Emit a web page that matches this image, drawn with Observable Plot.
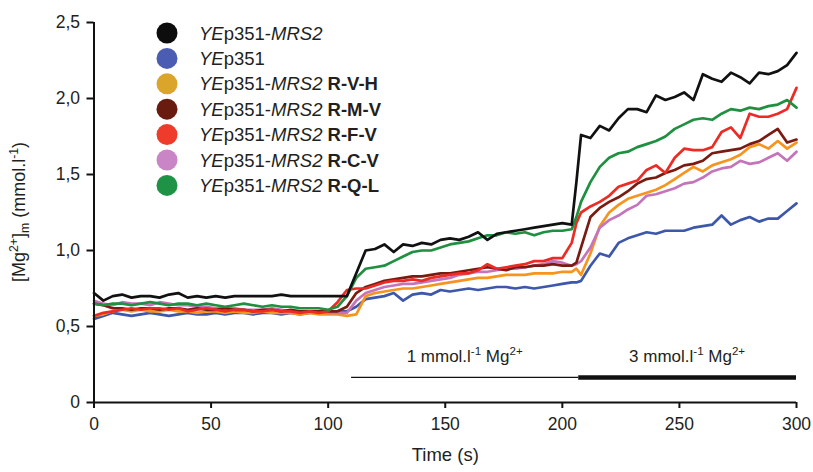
<!DOCTYPE html>
<html><head><meta charset="utf-8">
<script src="https://cdn.jsdelivr.net/npm/d3@7"></script>
<script src="https://cdn.jsdelivr.net/npm/@observablehq/plot@0.6"></script>
<style>
body{margin:0;background:#fff;}
#chart{width:813px;height:472px;}
</style></head><body><div id="chart"></div>
<script>
// ---- data ----
const times = [0,4,8,12,16,20,24,28,32,36,40,44,48,52,56,60,64,68,72,76,80,84,88,92,96,100,104,108,112,116,120,124,128,132,136,140,144,148,152,156,160,164,168,172,176,180,184,188,192,196,200,204,206,208,212,216,220,224,228,232,236,240,244,248,252,256,260,264,268,272,276,280,284,288,292,296,300];

const blackVals = [0.72,0.67,0.70,0.71,0.69,0.70,0.70,0.69,0.71,0.72,0.69,0.70,0.69,0.70,0.69,0.70,0.70,0.70,0.70,0.70,0.71,0.70,0.70,0.70,0.70,0.70,0.70,
 0.70,0.85,1.00,1.01,1.04,0.99,1.04,1.03,1.05,1.04,1.07,1.08,1.07,1.09,1.12,1.07,1.11,1.12,1.13,1.14,1.15,1.16,1.17,1.18,1.17,
 1.45,1.76,1.74,1.82,1.79,1.87,1.93,1.93,1.91,2.02,1.99,2.01,2.04,1.99,2.16,2.13,2.11,2.17,2.14,2.10,2.17,2.16,2.18,2.22,2.30];
const blueVals = [0.55,0.57,0.59,0.58,0.57,0.58,0.59,0.58,0.57,0.58,0.59,0.58,0.58,0.59,0.58,0.59,0.59,0.58,0.59,0.59,0.58,0.59,0.58,0.59,0.59,0.59,0.60,
 0.60,0.63,0.68,0.69,0.70,0.72,0.67,0.71,0.72,0.71,0.74,0.73,0.74,0.75,0.74,0.75,0.76,0.76,0.75,0.76,0.75,0.76,0.77,0.78,0.79,
 0.79,0.80,0.90,0.98,0.96,1.05,1.08,1.10,1.12,1.11,1.13,1.13,1.13,1.15,1.16,1.17,1.23,1.17,1.20,1.22,1.19,1.21,1.21,1.26,1.31];
const rvhVals = [0.57,0.58,0.60,0.61,0.60,0.61,0.60,0.60,0.61,0.60,0.60,0.59,0.60,0.60,0.59,0.60,0.59,0.59,0.60,0.59,0.59,0.59,0.58,0.59,0.58,0.58,0.58,
 0.57,0.58,0.70,0.72,0.73,0.74,0.75,0.75,0.76,0.77,0.78,0.79,0.80,0.81,0.82,0.82,0.83,0.84,0.84,0.84,0.85,0.85,0.85,0.86,0.86,
 0.88,0.84,0.98,1.16,1.25,1.30,1.34,1.36,1.38,1.40,1.43,1.47,1.51,1.55,1.52,1.56,1.58,1.60,1.63,1.68,1.70,1.67,1.72,1.67,1.71];
const rmvVals = [0.65,0.64,0.62,0.62,0.61,0.62,0.62,0.61,0.62,0.62,0.61,0.62,0.61,0.61,0.62,0.61,0.61,0.60,0.61,0.61,0.60,0.61,0.60,0.60,0.60,0.60,0.60,
 0.63,0.72,0.76,0.78,0.80,0.81,0.82,0.83,0.83,0.84,0.85,0.85,0.86,0.87,0.88,0.89,0.88,0.87,0.89,0.89,0.90,0.90,0.91,0.90,0.90,
 0.92,1.02,1.22,1.28,1.32,1.35,1.39,1.44,1.47,1.48,1.51,1.53,1.56,1.57,1.59,1.64,1.65,1.66,1.67,1.70,1.72,1.76,1.80,1.71,1.73];
const rfvVals = [0.57,0.59,0.60,0.61,0.62,0.61,0.62,0.62,0.61,0.62,0.60,0.61,0.62,0.61,0.60,0.61,0.61,0.60,0.60,0.61,0.60,0.60,0.59,0.60,0.59,0.60,0.66,
 0.74,0.75,0.75,0.77,0.79,0.80,0.80,0.81,0.80,0.82,0.83,0.84,0.85,0.85,0.87,0.91,0.88,0.89,0.90,0.91,0.93,0.93,0.95,0.95,1.05,
 1.18,1.25,1.29,1.32,1.36,1.42,1.44,1.46,1.53,1.56,1.51,1.61,1.67,1.66,1.66,1.68,1.78,1.81,1.74,1.90,1.88,1.88,1.90,1.93,2.07];
const rcvVals = [0.67,0.65,0.64,0.66,0.65,0.65,0.64,0.66,0.65,0.64,0.64,0.63,0.63,0.62,0.62,0.62,0.61,0.61,0.61,0.62,0.61,0.60,0.60,0.60,0.60,0.59,0.59,
 0.59,0.67,0.72,0.74,0.76,0.77,0.78,0.78,0.79,0.80,0.81,0.82,0.84,0.85,0.86,0.86,0.87,0.88,0.88,0.89,0.90,0.91,0.93,0.92,0.90,
 0.91,0.93,1.02,1.15,1.20,1.23,1.27,1.30,1.36,1.37,1.39,1.41,1.44,1.45,1.48,1.52,1.54,1.55,1.59,1.57,1.58,1.61,1.64,1.59,1.65];
const rqlVals = [0.65,0.64,0.65,0.65,0.64,0.65,0.66,0.65,0.64,0.65,0.65,0.64,0.65,0.64,0.63,0.64,0.65,0.64,0.63,0.64,0.63,0.63,0.62,0.62,0.62,0.61,0.63,
 0.70,0.82,0.88,0.89,0.90,0.93,0.96,0.99,1.00,1.00,1.02,1.04,1.05,1.06,1.08,1.10,1.10,1.12,1.11,1.12,1.10,1.12,1.13,1.13,1.14,
 1.22,1.32,1.45,1.55,1.61,1.64,1.65,1.68,1.70,1.72,1.75,1.80,1.83,1.86,1.87,1.86,1.90,1.93,1.92,1.94,1.93,1.95,1.96,1.99,1.94];

const seriesKeys   = ["MRS2","YEp351","R-V-H","R-M-V","R-F-V","R-C-V","R-Q-L"];
const seriesValues = [blackVals, blueVals, rvhVals, rmvVals, rfvVals, rcvVals, rqlVals];
const lineColors   = ["#111111","#3d57aa","#f7941d","#7a1b12","#ec2b25","#c574bb","#1f8f40"];
const dotColors    = ["#0d0d0d","#4a5db2","#dba52b","#6a1b0f","#ee3b2b","#c985c6","#1e9245"];
const drawOrder    = [1,2,5,3,4,6,0];

// legend parts: [text, style] ; style: i = italic, b = bold, n = normal
const legendParts = [
  [["YE","i"],["p351-","n"],["MRS2","i"]],
  [["YE","i"],["p351","n"]],
  [["YE","i"],["p351-","n"],["MRS2","i"],[" R-V-H","b"]],
  [["YE","i"],["p351-","n"],["MRS2","i"],[" R-M-V","b"]],
  [["YE","i"],["p351-","n"],["MRS2","i"],[" R-F-V","b"]],
  [["YE","i"],["p351-","n"],["MRS2","i"],[" R-C-V","b"]],
  [["YE","i"],["p351-","n"],["MRS2","i"],[" R-Q-L","b"]]
];

const xTicks = [0,50,100,150,200,250,300];
const yTicks = [0,0.5,1,1.5,2,2.5];
const yTickLabels = ["0","0,5","1,0","1,5","2,0","2,5"];
const xLabel = "Time (s)";

// treatment bars
const treatNames = ["1", "3"];
const treatStart = [110, 207];
const treatEnd   = [207, 300];
const treatLevel = 0.165;

// ---- build ----
const rows = [];
seriesKeys.forEach((k, s) => seriesValues[s].forEach((v, i) => rows.push({t: times[i], v, key: k})));
const treatRows = treatNames.map((n, i) => ({name: n, start: treatStart[i], end: treatEnd[i], mid: (treatStart[i] + treatEnd[i]) / 2}));

const FONT = "'Liberation Sans', Arial, Helvetica, sans-serif";
const ink = "#231f20";

const marks = [
  Plot.axisY({ticks: yTicks, tickFormat: d => yTickLabels[yTicks.indexOf(d)], tickSize: 7, tickPadding: 7, label: null, fontSize: 17.5, stroke: "#111", strokeWidth: 2, fill: ink}),
  Plot.axisX({ticks: xTicks, tickFormat: d => String(d), tickSize: 6, tickPadding: 9, label: null, fontSize: 17.5, stroke: "#111", strokeWidth: 2, fill: ink}),
  Plot.text([xLabel], {frameAnchor: "bottom", dy: 58, fontSize: 18.5, fill: ink}),
  Plot.ruleY(treatRows.slice(0,1), {x1: "start", x2: "end", y: treatLevel, stroke: "#111", strokeWidth: 1.3}),
  Plot.ruleY(treatRows.slice(1,2), {x1: "start", x2: "end", y: treatLevel, stroke: "#111", strokeWidth: 4.5})
];
drawOrder.forEach(s => {
  marks.push(Plot.line(rows.filter(r => r.key === seriesKeys[s]), {x: "t", y: "v", stroke: lineColors[s], strokeWidth: 2.7, strokeLinejoin: "round"}));
});
marks.push(Plot.ruleX([0], {stroke: "#111", strokeWidth: 2}));
marks.push(Plot.ruleY([0], {stroke: "#111", strokeWidth: 2}));

const plot = Plot.plot({
  width: 813, height: 472,
  marginLeft: 93.5, marginRight: 17, marginTop: 22, marginBottom: 70,
  style: {fontFamily: FONT, fontSize: "17px", color: ink, background: "#fff"},
  x: {domain: [0, 300]},
  y: {domain: [0, 2.5]},
  marks
});
document.getElementById("chart").appendChild(plot);

const xs = plot.scale("x"), ys = plot.scale("y");
const svg = d3.select(plot);

// rich text helper
function rich(parent, x, y, parts, size, anchor) {
  const t = parent.append("text").attr("x", x).attr("y", y)
    .attr("font-family", FONT).attr("font-size", size).attr("fill", ink)
    .attr("text-anchor", anchor || "start");
  let shift = 0;
  parts.forEach(([txt, st]) => {
    const sp = t.append("tspan").text(txt);
    let target = 0;
    if (st === "i") sp.attr("font-style", "italic");
    if (st === "b") sp.attr("font-weight", "bold");
    if (st === "sup") { target = -size * 0.38; sp.attr("font-size", size * 0.68); }
    if (st === "sub") { target = size * 0.22; sp.attr("font-size", size * 0.68); }
    if (target !== shift) { sp.attr("dy", target - shift); shift = target; }
  });
  return t;
}

// legend
const lg = svg.append("g");
legendParts.forEach((parts, i) => {
  const cy = 33 + i * 25.4;
  lg.append("circle").attr("cx", 167).attr("cy", cy).attr("r", 10.5).attr("fill", dotColors[i]);
  rich(lg, 199, cy + 6.5, parts, 18.5, "start");
});

// y label
const yl = svg.append("g").attr("transform", `translate(25, ${(ys.apply(0) + ys.apply(2.5)) / 2}) rotate(-90)`);
rich(yl, 0, 0, [["[Mg","n"],["2+","sup"],["]","n"],["m","sub"],[" (mmol.l","n"],["-1","sup"],[")","n"]], 18, "middle");

// treatment labels
treatRows.forEach(r => {
  rich(svg, xs.apply(r.mid), ys.apply(treatLevel) - 15, [[r.name + " mmol.l","n"],["-1","sup"],[" Mg","n"],["2+","sup"]], 17, "middle");
});
</script></body></html>
